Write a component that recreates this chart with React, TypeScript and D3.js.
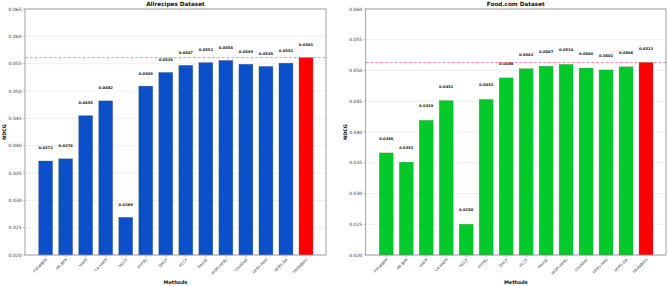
import * as d3 from "d3";

const methods = [
  "FM-WBPR", "MF-BPR", "HAFR", "CA-HAFR", "NGCF", "HTFRS", "DHCF",
  "HCCF", "HeaSE", "MOPI-HFRS", "ChatDiet", "UFRS-HAN", "HFRS-DA", "FRMABNG",
];

const allrecipesNdcg = [
  0.0372, 0.0376, 0.0455, 0.0482, 0.0269, 0.0509, 0.0534,
  0.0547, 0.0552, 0.0556, 0.0549, 0.0545, 0.0551, 0.0561,
];

const foodcomNdcg = [
  0.0366, 0.0351, 0.0419, 0.0451, 0.025, 0.0453, 0.0488,
  0.0503, 0.0507, 0.051, 0.0504, 0.0501, 0.0506, 0.0513,
];

const allrecipesTicks = [0.02, 0.025, 0.03, 0.035, 0.04, 0.045, 0.05, 0.055, 0.06, 0.065];
const foodcomTicks = [0.02, 0.025, 0.03, 0.035, 0.04, 0.045, 0.05, 0.055, 0.06];

const FONT = "DejaVu Sans, sans-serif";

type PanelProps = {
  title: string;
  values: number[];
  ticks: number[];
  color: string;
  left: number;
  right: number;
};

function Panel({ title, values, ticks, color, left, right }: PanelProps) {
  const top = 9;
  const bottom = 255;
  const x = d3.scaleLinear().domain([-1.03, 14]).range([left, right]);
  const y = d3
    .scaleLinear()
    .domain([ticks[0], ticks[ticks.length - 1]])
    .range([bottom, top]);
  const best = d3.max(values) as number;
  const bw = x(0.35) - x(0);

  return (
    <g>
      {ticks.map((t) => (
        <g key={t}>
          <line x1={left} x2={right} y1={y(t)} y2={y(t)} stroke="#e6e6e6" strokeWidth={0.6} />
          <line x1={left - 2} x2={left} y1={y(t)} y2={y(t)} stroke="#777" strokeWidth={0.5} />
          <text x={left - 3.5} y={y(t)} dy="0.35em" textAnchor="end" fontSize={4.5} fill="#333">
            {t.toFixed(3)}
          </text>
        </g>
      ))}
      {values.map((v, i) => (
        <g key={methods[i]}>
          <rect
            x={x(i) - bw}
            y={y(v)}
            width={bw * 2}
            height={bottom - y(v)}
            fill={i === values.length - 1 ? "#ff0000" : color}
            stroke="#666"
            strokeOpacity={0.6}
            strokeWidth={0.4}
          />
          <text
            x={x(i)}
            y={y(v + 0.0021)}
            textAnchor="middle"
            fontSize={3.7}
            fontWeight="bold"
            fill="#111"
          >
            {v.toFixed(4)}
          </text>
          <line x1={x(i)} x2={x(i)} y1={bottom} y2={bottom + 2} stroke="#777" strokeWidth={0.5} />
          <text
            transform={`translate(${x(i) + 1},${bottom + 4}) rotate(-45)`}
            textAnchor="end"
            dy="0.35em"
            fontSize={3.8}
            fill="#333"
          >
            {methods[i]}
          </text>
        </g>
      ))}
      <line
        x1={left}
        x2={right}
        y1={y(best)}
        y2={y(best)}
        stroke="#f03030"
        strokeOpacity={0.75}
        strokeWidth={0.7}
        strokeDasharray="3,1.8"
      />
      <rect x={left} y={top} width={right - left} height={bottom - top} fill="none" stroke="#8a8a8a" strokeWidth={0.8} />
      <text x={(left + right) / 2} y={6.2} textAnchor="middle" fontSize={5.7} fontWeight="bold" fill="#111">
        {title}
      </text>
      <text x={(left + right) / 2} y={283.5} textAnchor="middle" fontSize={4.9} fontWeight="bold" fill="#111">
        Methods
      </text>
      <text
        transform={`translate(${left - 19},${(top + bottom) / 2}) rotate(-90)`}
        textAnchor="middle"
        fontSize={4.9}
        fontWeight="bold"
        fill="#111"
      >
        NDCG
      </text>
    </g>
  );
}

export default function App() {
  return (
    <div style={{ position: "fixed", left: 0, top: 0 }}>
      <svg width={668} height={286} style={{ display: "block", fontFamily: FONT }}>
        <rect width={668} height={286} fill="#fff" />
        <Panel title="Allrecipes Dataset" values={allrecipesNdcg} ticks={allrecipesTicks} color="#0b4fcb" left={25} right={326} />
        <Panel title="Food.com Dataset" values={foodcomNdcg} ticks={foodcomTicks} color="#04c92a" left={365.7} right={666} />
      </svg>
    </div>
  );
}
